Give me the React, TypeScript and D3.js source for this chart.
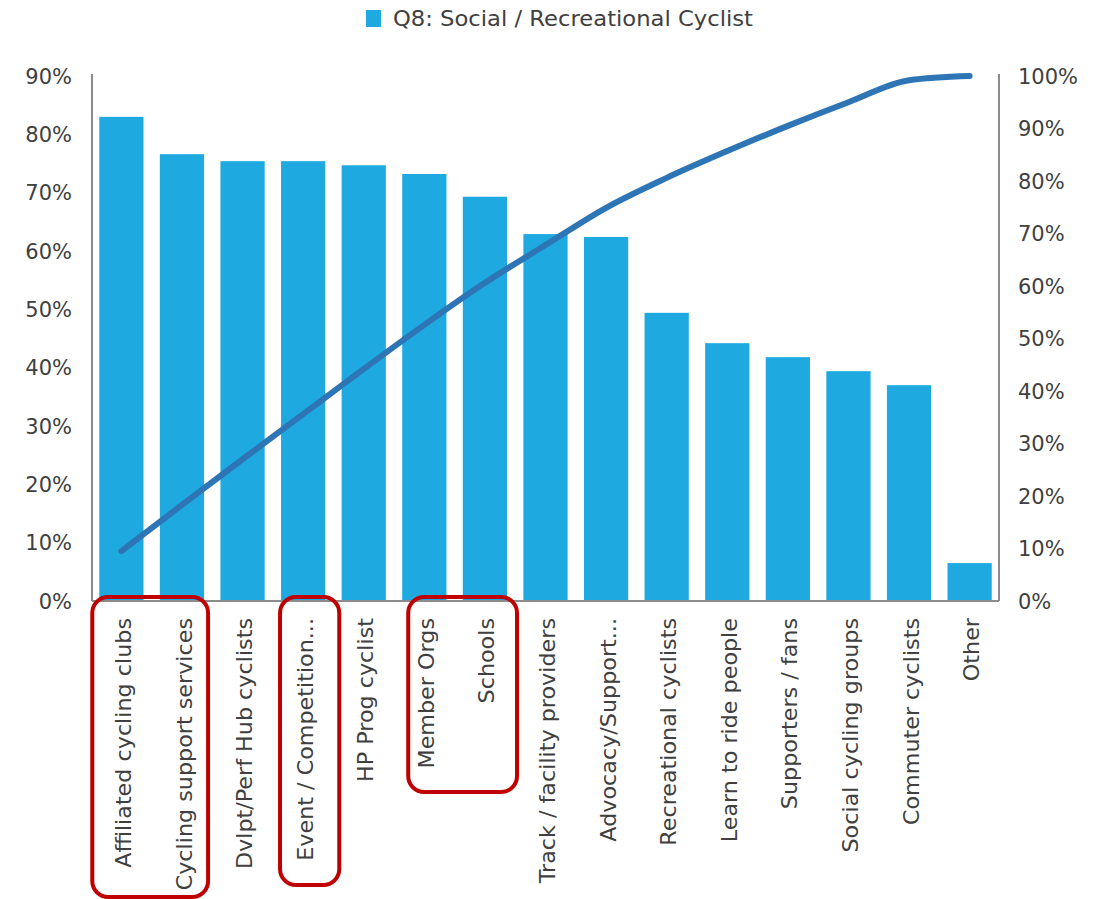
import React from "react";
import * as d3 from "d3";

const categories = [
  "Affiliated cycling clubs",
  "Cycling support services",
  "Dvlpt/Perf Hub cyclists",
  "Event / Competition...",
  "HP Prog cyclist",
  "Member Orgs",
  "Schools",
  "Track / facility providers",
  "Advocacy/Support...",
  "Recreational cyclists",
  "Learn to ride people",
  "Supporters / fans",
  "Social cycling groups",
  "Commuter cyclists",
  "Other",
];
const barValues = [83, 76.6, 75.4, 75.4, 74.7, 73.2, 69.3, 62.9, 62.4, 49.4, 44.2, 41.8, 39.4, 37.0, 6.5];
const cumulativeValues = [9.5, 18.3, 27.0, 35.6, 44.2, 52.6, 60.6, 67.8, 74.9, 80.6, 85.7, 90.5, 95.0, 99.2, 100];
const leftTicks = [0, 10, 20, 30, 40, 50, 60, 70, 80, 90];
const rightTicks = [0, 10, 20, 30, 40, 50, 60, 70, 80, 90, 100];
const legendLabel = "Q8: Social / Recreational Cyclist";
// highlighted groups: [first index, last index]
const highlightGroups = [
  [0, 1],
  [3, 3],
  [5, 6],
];

const W = 1112;
const H = 899;
const left = 92;
const right = 999;
const top = 76;
const bottom = 601;
const font = "'DejaVu Sans', sans-serif";

export default function App() {
  React.useEffect(() => {
    document.body.style.margin = "0";
  }, []);

  const x = d3.scaleBand<string>().domain(categories).range([left, right]).paddingInner(0.27).paddingOuter(0.12);
  const yL = d3.scaleLinear().domain([0, 90]).range([bottom, top]);
  const yR = d3.scaleLinear().domain([0, 100]).range([bottom, top]);
  const line = d3
    .line<number>()
    .x((_, i) => (x(categories[i]) as number) + x.bandwidth() / 2)
    .y((d) => yR(d))
    .curve(d3.curveMonotoneX);

  const boxStyle = [
    { l: -7, r: 4, h: 300 },
    { l: -1, r: 14, h: 288 },
    { l: 6, r: 10, h: 195 },
  ];

  return (
    <svg width={W} height={H} style={{ display: "block" }}>
      <rect x={0} y={0} width={W} height={H} fill="#ffffff" />
      {/* legend */}
      <rect x={366} y={10} width={15} height={17} fill="#1EAAE1" />
      <text
        transform="translate(393,26) scale(1.08,1)"
        fontFamily={font}
        fontSize={21}
        fill="#404040"
      >
        {legendLabel}
      </text>

      {/* bars */}
      {barValues.map((v, i) => (
        <rect
          key={categories[i]}
          x={x(categories[i])}
          y={yL(v)}
          width={x.bandwidth()}
          height={bottom - yL(v)}
          fill="#1EAAE1"
        />
      ))}

      {/* axes */}
      <line x1={left} x2={left} y1={top - 2} y2={bottom} stroke="#8c8c8c" strokeWidth={2} />
      <line x1={right} x2={right} y1={top - 2} y2={bottom} stroke="#8c8c8c" strokeWidth={2} />
      <line x1={left} x2={right} y1={bottom} y2={bottom} stroke="#8c8c8c" strokeWidth={2} />

      {leftTicks.map((t) => (
        <text
          key={"l" + t}
          x={72}
          y={yL(t)}
          dy="0.36em"
          textAnchor="end"
          fontFamily={font}
          fontSize={21}
          fill="#404040"
        >
          {t + "%"}
        </text>
      ))}
      {rightTicks.map((t) => (
        <text
          key={"r" + t}
          x={1018}
          y={yR(t)}
          dy="0.36em"
          textAnchor="start"
          fontFamily={font}
          fontSize={21}
          fill="#404040"
        >
          {t + "%"}
        </text>
      ))}

      {/* cumulative line */}
      <path
        d={line(cumulativeValues) || ""}
        fill="none"
        stroke="#2E75B6"
        strokeWidth={6}
        strokeLinecap="round"
        strokeLinejoin="round"
      />

      {/* category labels */}
      {categories.map((c) => {
        const cx = (x(c) as number) + x.bandwidth() / 2;
        return (
          <text
            key={c}
            transform={`translate(${cx + 2},618) rotate(-90) scale(1.06,1)`}
            dy="0.36em"
            textAnchor="end"
            fontFamily={font}
            fontSize={21}
            fill="#404040"
          >
            {c}
          </text>
        );
      })}

      {/* highlight boxes */}
      {highlightGroups.map(([a, b], i) => {
        const s = boxStyle[i];
        const x0 = (x(categories[a]) as number) + s.l;
        const x1 = (x(categories[b]) as number) + x.bandwidth() + s.r;
        return (
          <rect
            key={"h" + i}
            x={x0}
            y={597}
            width={x1 - x0}
            height={s.h}
            rx={16}
            fill="none"
            stroke="#C00000"
            strokeWidth={4}
          />
        );
      })}
    </svg>
  );
}
